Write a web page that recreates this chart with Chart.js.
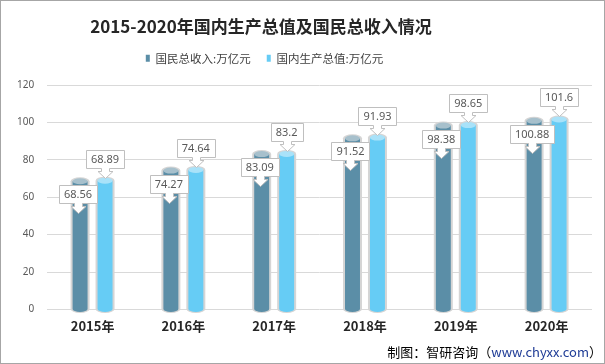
<!DOCTYPE html>
<html lang="zh-CN">
<head>
<meta charset="utf-8">
<title>2015-2020年国内生产总值及国民总收入情况</title>
<script src="https://cdn.jsdelivr.net/npm/chart.js@4.4.1/dist/chart.umd.min.js"></script>
<style>
  html, body { margin: 0; padding: 0; background: #fff; }
  #grafico { display: block; }
</style>
</head>
<body>
<canvas id="grafico" width="605" height="364"></canvas>
<script>
// dados
const titulo = '2015-2020年国内生产总值及国民总收入情况';
const anos = ['2015年', '2016年', '2017年', '2018年', '2019年', '2020年'];
const rotuloRenda = '国民总收入:万亿元';
const rendaNacional = [68.56, 74.27, 83.09, 91.52, 98.38, 100.88];
const rotuloPib = '国内生产总值:万亿元';
const pib = [68.89, 74.64, 83.2, 91.93, 98.65, 101.6];
const ticksY = [0, 20, 40, 60, 80, 100, 120];
const fonte = ['制图：智研咨询（', 'www.chyxx.com', '）'];

const fonteTexto = "'Noto Sans', 'Noto Sans CJK SC', sans-serif";
const fonteCjk = "'Noto Sans CJK SC', 'Noto Sans', sans-serif";

/**
 * Desenha uma barra em forma de cilindro (tubo cinza + corpo colorido + tampa).
 */
function cilindro(ctx, bar, cor, tampa) {
    let x = bar.x, topo = bar.y, base = bar.base;
    let r = bar.width / 2, ri = r - 2, ry = 3;
    ctx.save();
    // tubo cinza por fora
    ctx.fillStyle = '#d5d5d5';
    ctx.beginPath();
    ctx.ellipse(x, base, r, ry + 1, 0, 0, Math.PI);
    ctx.lineTo(x - r, topo);
    ctx.ellipse(x, topo, r, ry + 1, 0, Math.PI, 2 * Math.PI);
    ctx.closePath();
    ctx.fill();
    // corpo
    ctx.fillStyle = cor;
    ctx.beginPath();
    ctx.ellipse(x, base, ri, ry, 0, 0, Math.PI);
    ctx.lineTo(x - ri, topo);
    ctx.lineTo(x + ri, topo);
    ctx.closePath();
    ctx.fill();
    // tampa
    ctx.fillStyle = tampa;
    ctx.beginPath();
    ctx.ellipse(x, topo, ri, ry, 0, 0, 2 * Math.PI);
    ctx.fill();
    ctx.restore();
}

/**
 * Caixa de rótulo com seta apontando para baixo.
 */
function rotulo(ctx, texto, cx, topoCaixa) {
    ctx.save();
    ctx.font = '11px ' + fonteTexto;
    let w = Math.round(ctx.measureText(texto).width + 10);
    let h = 18;
    let l = Math.round(cx - w / 2) + 0.5;
    let t = Math.round(topoCaixa) + 0.5;
    let b = t + h;
    let c = Math.round(cx) + 0.5;
    ctx.beginPath();
    ctx.moveTo(l, t);
    ctx.lineTo(l + w, t);
    ctx.lineTo(l + w, b);
    ctx.lineTo(c + 4, b);
    ctx.lineTo(c + 4, b + 3);
    ctx.lineTo(c + 7.5, b + 3);
    ctx.lineTo(c, b + 10);
    ctx.lineTo(c - 7.5, b + 3);
    ctx.lineTo(c - 4, b + 3);
    ctx.lineTo(c - 4, b);
    ctx.lineTo(l, b);
    ctx.closePath();
    ctx.fillStyle = '#ffffff';
    ctx.fill();
    ctx.strokeStyle = '#bfbfbf';
    ctx.lineWidth = 1;
    ctx.stroke();
    ctx.fillStyle = '#595959';
    ctx.textAlign = 'center';
    ctx.textBaseline = 'middle';
    ctx.fillText(texto, cx, t + h / 2 + 0.5);
    ctx.restore();
}

const pluginCilindro = {
    id: 'cilindro',
    afterLayout(chart) {
        // título e legenda ficam um pouco à esquerda no original
        chart.titleBlock.right = 518;
        chart.legend.right = 525;
    },
    beforeDatasetDraw(chart, args) {
        let ds = chart.data.datasets[args.index];
        args.meta.data.forEach(bar => cilindro(chart.ctx, bar, ds.backgroundColor, ds.corTampa));
        return false;
    },
    afterDatasetsDraw(chart) {
        let ctx = chart.ctx;
        chart.data.datasets.forEach((ds, i) => {
            chart.getDatasetMeta(i).data.forEach((bar, j) => {
                let texto = String(ds.data[j]);
                if (i === 0) {
                    rotulo(ctx, texto, bar.x - 2, bar.y + 4);
                } else {
                    rotulo(ctx, texto, bar.x, bar.y - 31);
                }
            });
        });
    },
    afterDraw(chart) {
        let ctx = chart.ctx;
        ctx.save();
        // fonte no canto inferior direito
        ctx.font = '13px ' + fonteCjk;
        ctx.textBaseline = 'middle';
        let larguras = fonte.map(t => ctx.measureText(t).width);
        let x = 602 - larguras.reduce((a, b) => a + b, 0);
        let cores = ['#000000', '#1f3c96', '#000000'];
        fonte.forEach((t, i) => {
            ctx.fillStyle = cores[i];
            ctx.fillText(t, x, 352);
            x += larguras[i];
        });
        // moldura
        ctx.strokeStyle = '#a6a6a6';
        ctx.lineWidth = 1;
        ctx.strokeRect(0.5, 0.5, chart.width - 1, chart.height - 1);
        ctx.restore();
    }
};

let ctx = document.getElementById('grafico');

new Chart(ctx.getContext('2d'), {
    type: 'bar',
    data: {
        labels: anos,
        datasets: [{
            label: rotuloRenda,
            data: rendaNacional,
            backgroundColor: '#5b8ea7',
            corTampa: '#a7c0cc',
            borderWidth: 0,
            barPercentage: 0.76,
            categoryPercentage: 0.55
        }, {
            label: rotuloPib,
            data: pib,
            backgroundColor: '#66ccf5',
            corTampa: '#a9e2f9',
            borderWidth: 0,
            barPercentage: 0.76,
            categoryPercentage: 0.55
        }]
    },
    options: {
        responsive: false,
        animation: false,
        events: [],
        layout: {
            padding: { left: 4, right: 13, top: 0, bottom: 21 }
        },
        plugins: {
            title: {
                display: true,
                text: titulo,
                color: '#262626',
                font: { family: fonteCjk, size: 17, weight: 'bold' },
                padding: { top: 16, bottom: 0 }
            },
            subtitle: {
                // só um espaço entre a legenda e o gráfico
                display: true,
                text: '',
                weight: 500,
                font: { size: 1 },
                padding: { top: 0, bottom: 10 }
            },
            legend: {
                display: true,
                position: 'top',
                labels: {
                    color: '#404040',
                    font: { family: fonteCjk, size: 11.5 },
                    boxWidth: 4,
                    boxHeight: 7,
                    padding: 16
                }
            },
            tooltip: { enabled: false }
        },
        scales: {
            x: {
                grid: { display: false, drawTicks: false },
                border: { display: false },
                ticks: {
                    color: '#262626',
                    padding: 9,
                    font: { family: fonteCjk, size: 13, weight: 'bold' }
                }
            },
            y: {
                min: ticksY[0],
                max: ticksY[ticksY.length - 1],
                grid: { color: '#d9d9d9', drawTicks: false },
                border: { display: false },
                ticks: {
                    stepSize: ticksY[1] - ticksY[0],
                    color: '#595959',
                    padding: 13,
                    font: { family: fonteTexto, size: 10 }
                }
            }
        }
    },
    plugins: [pluginCilindro]
});
</script>
</body>
</html>
